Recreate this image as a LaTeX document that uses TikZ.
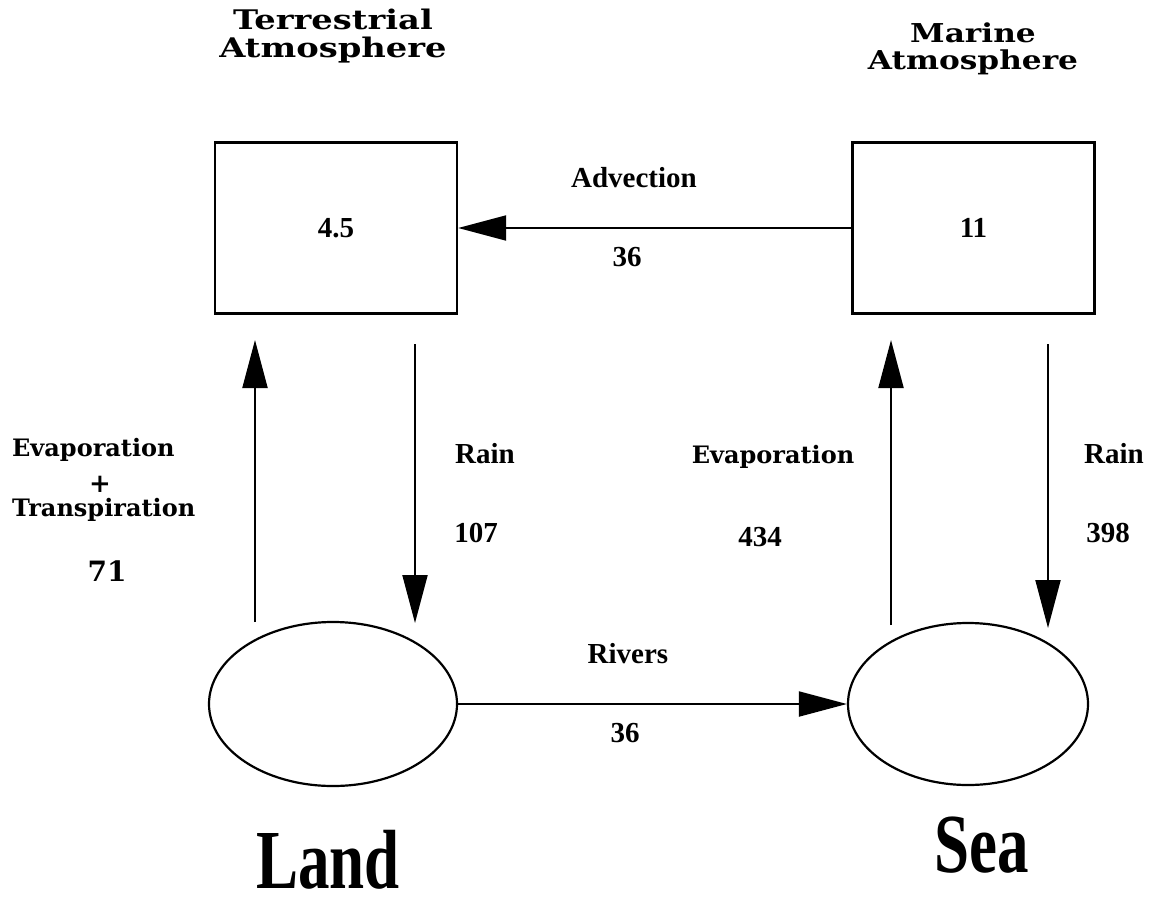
\documentclass[tikz,border=0pt]{standalone}
\usepackage{fontspec}
\usepackage{graphicx}
\newfontfamily\tms{Liberation Serif}
\newfontfamily\dvs{DejaVu Serif}
\usetikzlibrary{arrows.meta,shapes.geometric}
\newcommand{\twoline}[3]{\scalebox{#1}[1]{\begin{tabular}{@{}c@{}}#2\\#3\end{tabular}}}
\begin{document}
\begin{tikzpicture}[x=1pt,y=-1pt,
  box/.style={draw,line width=2.4pt,minimum width=242pt,minimum height=171pt,inner sep=0pt,
    font=\tms\bfseries\fontsize{29}{29}\selectfont},
  pool/.style={draw,ellipse,line width=2.2pt,inner sep=0pt},
  flow/.style={line width=2pt,-{Triangle[length=48pt,width=25pt]}},
  tl/.style={inner sep=0pt,font=\tms\bfseries\fontsize{29}{29}\selectfont},
  cl/.style={inner sep=0pt,font=\dvs\bfseries\fontsize{24}{24}\selectfont},
  ttl/.style={inner sep=0pt,font=\dvs\bfseries\fontsize{27}{25}\selectfont},
  big/.style={inner sep=0pt,font=\tms\bfseries\fontsize{84}{84}\selectfont}]
\useasboundingbox (0,0) rectangle (1154,905);

% titles
\node[ttl] (tatitle) at (333,37) {\twoline{1.25}{Terrestrial}{Atmosphere}};
\node[ttl,font=\dvs\bfseries\fontsize{26}{24}\selectfont] (matitle) at (973,50) {\twoline{1.2}{Marine}{Atmosphere}};

% reservoirs
\node[box] (ta) at (336,228) {4.5};
\node[box] (ma) at (973.5,228) {11};
\node[pool,minimum width=248pt,minimum height=164pt] (land) at (333,704) {};
\node[pool,minimum width=240pt,minimum height=162pt] (sea) at (968,704) {};

% vertical flow end points
\coordinate (e1a) at (255,622);
\coordinate (e1b) at (255,340);
\coordinate (r1a) at (415,344);
\coordinate (r1b) at (415,623);
\coordinate (e2a) at (891,625);
\coordinate (e2b) at (891,340);
\coordinate (r2a) at (1048,344);
\coordinate (r2b) at (1048,628);

% flows
\draw[flow] (ma.west) -- (ta.east);
\draw[flow] (land.east) -- (sea.west);
\draw[flow] (e1a) -- (e1b);
\draw[flow] (r1a) -- (r1b);
\draw[flow] (e2a) -- (e2b);
\draw[flow] (r2a) -- (r2b);

% flow labels
\node[tl] (adv) at (634,178) {Advection};
\node[tl] (adv36) at (627,257) {36};
\node[tl] (rain1) at (485,454) {Rain};
\node[tl] (n107) at (476,533) {107};
\node[tl] (rain2) at (1114,454) {Rain};
\node[tl] (n398) at (1108,533) {398};
\node[cl,anchor=base] (evap2) at (773,463) {Evaporation};
\node[tl] (n434) at (760,537) {434};
\node[tl] (riv) at (628,654) {Rivers};
\node[tl] (riv36) at (625,733) {36};
\node[cl,anchor=base west] (evap1) at (12,456) {Evaporation};
\node[cl,font=\dvs\bfseries\fontsize{26}{26}\selectfont] (plus) at (100,484) {+};
\node[cl,anchor=base west] (trans) at (12,516) {Transpiration};
\node[cl,font=\dvs\bfseries\fontsize{28}{28}\selectfont] (n71) at (107,571) {71};

% names
\node[big,anchor=base] (landlab) at (328,888) {\scalebox{0.75}[1]{Land}};
\node[big,anchor=base] (sealab) at (982,872) {\scalebox{0.75}[1]{Sea}};
\end{tikzpicture}
\end{document}
